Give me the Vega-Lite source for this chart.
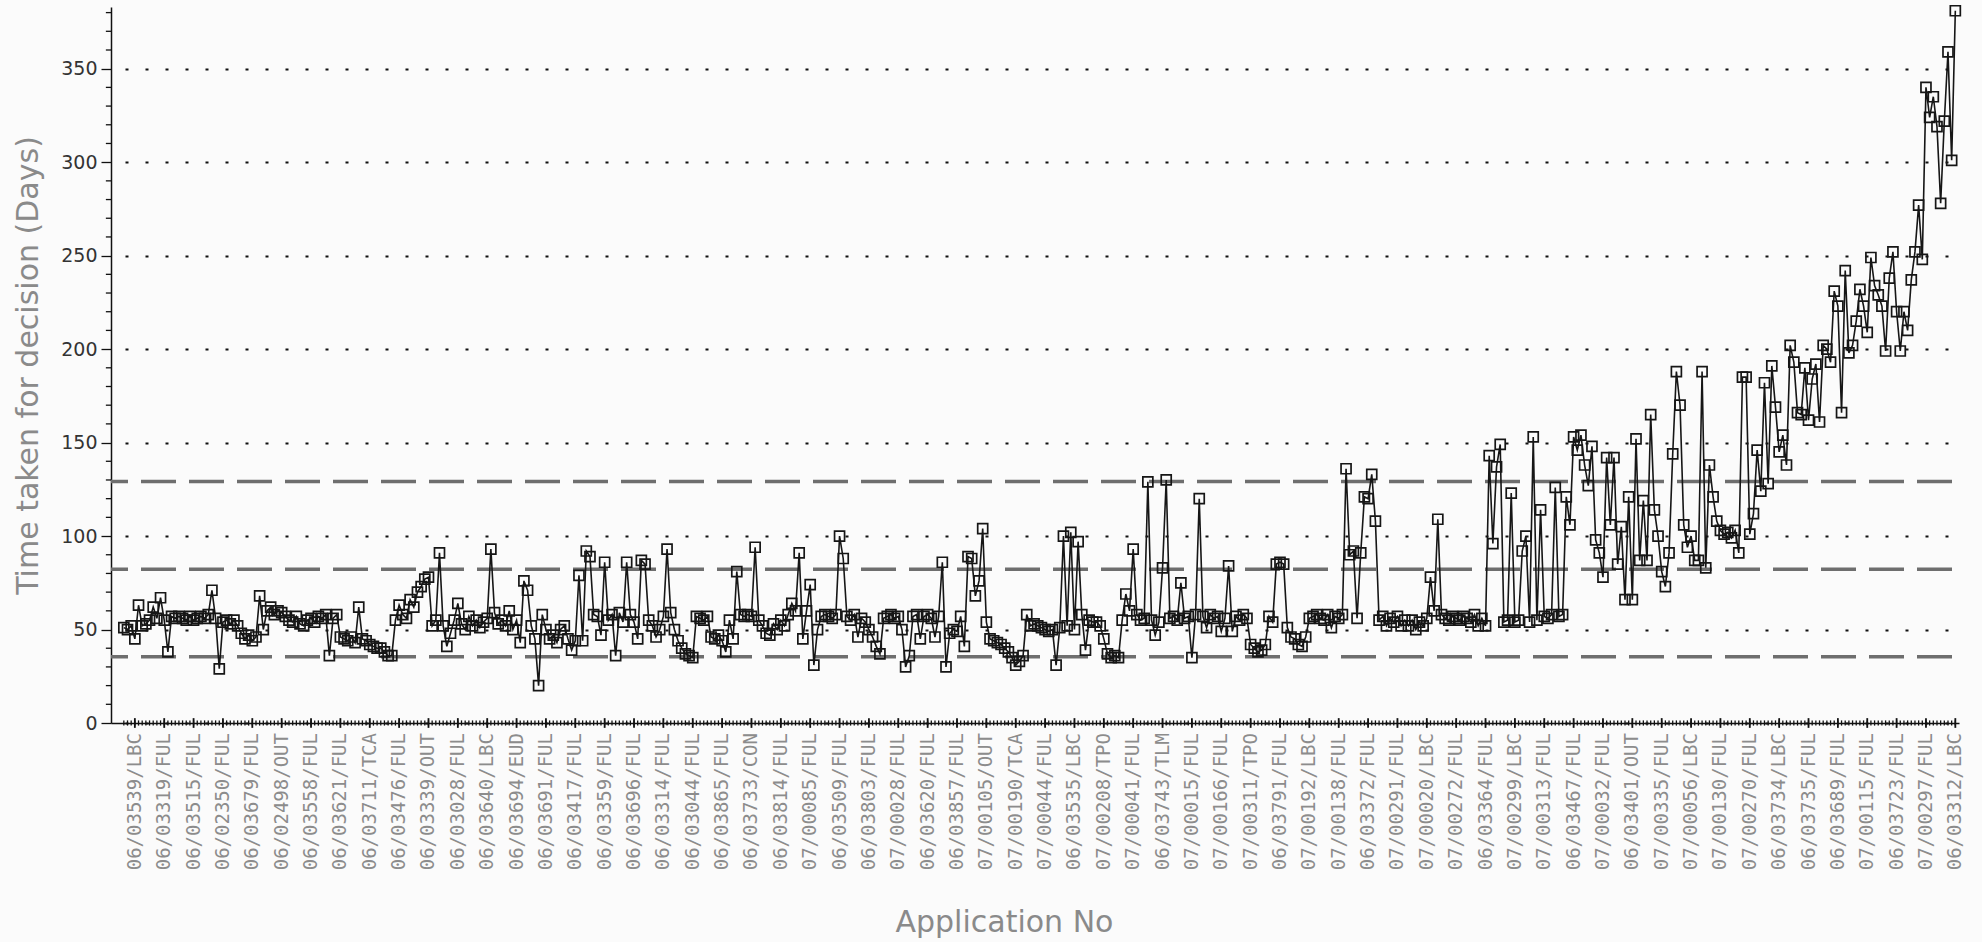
{
"$schema": "https://vega.github.io/schema/vega-lite/v6.json",
"width": 1848, "height": 716,
"autosize": {"type": "none"},
"padding": {"left": 111, "top": 7, "right": 23, "bottom": 219},
"background": "#fbfbfb",
"config": {"view": {"stroke": null},
"axisX": {"labels": false, "ticks": false, "grid": false, "domainColor": "#111", "domainWidth": 1.5,
"titleFont": "DejaVu Sans", "titleFontSize": 30, "titleFontWeight": "normal", "titleColor": "#8a8a8a", "titleX": 893, "titleY": 199, "titleBaseline": "middle"},
"axisY": {"labelOverlap": false, "tickColor": "#111", "tickWidth": 1.3, "tickSize": 10,
"grid": true, "gridDash": [3, 17], "gridDashOffset": 6, "gridWidth": 2, "gridColor": "#111",
"domainColor": "#111", "domainWidth": 1.5,
"labelFont": "DejaVu Sans", "labelFontSize": 19, "labelColor": "#333", "labelPadding": 4,
"titleFont": "DejaVu Sans", "titleFontSize": 30, "titleFontWeight": "normal", "titleColor": "#8a8a8a",
"titleX": -83, "titleY": 358, "titleBaseline": "middle", "titleAngle": 270}
},
"datasets": {
"points": [
{"i":0,"d":51},{"i":1,"d":50},{"i":2,"d":52},{"i":3,"d":45},{"i":4,"d":63},{"i":5,"d":52},{"i":6,"d":53},{"i":7,"d":55},{"i":8,"d":62},{"i":9,"d":56},
{"i":10,"d":67},{"i":11,"d":55},{"i":12,"d":38},{"i":13,"d":57},{"i":14,"d":56},{"i":15,"d":57},{"i":16,"d":56},{"i":17,"d":55},{"i":18,"d":57},{"i":19,"d":55},
{"i":20,"d":56},{"i":21,"d":57},{"i":22,"d":56},{"i":23,"d":58},{"i":24,"d":71},{"i":25,"d":56},{"i":26,"d":29},{"i":27,"d":54},{"i":28,"d":55},{"i":29,"d":53},
{"i":30,"d":55},{"i":31,"d":52},{"i":32,"d":48},{"i":33,"d":45},{"i":34,"d":47},{"i":35,"d":44},{"i":36,"d":46},{"i":37,"d":68},{"i":38,"d":50},{"i":39,"d":60},
{"i":40,"d":62},{"i":41,"d":58},{"i":42,"d":60},{"i":43,"d":59},{"i":44,"d":57},{"i":45,"d":55},{"i":46,"d":54},{"i":47,"d":57},{"i":48,"d":53},{"i":49,"d":52},
{"i":50,"d":55},{"i":51,"d":56},{"i":52,"d":54},{"i":53,"d":57},{"i":54,"d":56},{"i":55,"d":58},{"i":56,"d":36},{"i":57,"d":56},{"i":58,"d":58},{"i":59,"d":46},
{"i":60,"d":45},{"i":61,"d":44},{"i":62,"d":46},{"i":63,"d":43},{"i":64,"d":62},{"i":65,"d":45},{"i":66,"d":44},{"i":67,"d":42},{"i":68,"d":41},{"i":69,"d":40},
{"i":70,"d":40},{"i":71,"d":38},{"i":72,"d":36},{"i":73,"d":36},{"i":74,"d":55},{"i":75,"d":63},{"i":76,"d":58},{"i":77,"d":56},{"i":78,"d":66},{"i":79,"d":62},
{"i":80,"d":70},{"i":81,"d":73},{"i":82,"d":77},{"i":83,"d":78},{"i":84,"d":52},{"i":85,"d":55},{"i":86,"d":91},{"i":87,"d":52},{"i":88,"d":41},{"i":89,"d":48},
{"i":90,"d":55},{"i":91,"d":64},{"i":92,"d":53},{"i":93,"d":50},{"i":94,"d":57},{"i":95,"d":52},{"i":96,"d":55},{"i":97,"d":51},{"i":98,"d":54},{"i":99,"d":56},
{"i":100,"d":93},{"i":101,"d":59},{"i":102,"d":53},{"i":103,"d":55},{"i":104,"d":52},{"i":105,"d":60},{"i":106,"d":50},{"i":107,"d":55},{"i":108,"d":43},{"i":109,"d":76},
{"i":110,"d":71},{"i":111,"d":52},{"i":112,"d":45},{"i":113,"d":20},{"i":114,"d":58},{"i":115,"d":50},{"i":116,"d":45},{"i":117,"d":47},{"i":118,"d":43},{"i":119,"d":50},
{"i":120,"d":52},{"i":121,"d":45},{"i":122,"d":39},{"i":123,"d":44},{"i":124,"d":79},{"i":125,"d":44},{"i":126,"d":92},{"i":127,"d":89},{"i":128,"d":58},{"i":129,"d":57},
{"i":130,"d":47},{"i":131,"d":86},{"i":132,"d":55},{"i":133,"d":58},{"i":134,"d":36},{"i":135,"d":59},{"i":136,"d":54},{"i":137,"d":86},{"i":138,"d":58},{"i":139,"d":54},
{"i":140,"d":45},{"i":141,"d":87},{"i":142,"d":85},{"i":143,"d":55},{"i":144,"d":52},{"i":145,"d":46},{"i":146,"d":50},{"i":147,"d":57},{"i":148,"d":93},{"i":149,"d":59},
{"i":150,"d":50},{"i":151,"d":44},{"i":152,"d":40},{"i":153,"d":37},{"i":154,"d":36},{"i":155,"d":35},{"i":156,"d":57},{"i":157,"d":56},{"i":158,"d":55},{"i":159,"d":57},
{"i":160,"d":46},{"i":161,"d":45},{"i":162,"d":47},{"i":163,"d":44},{"i":164,"d":38},{"i":165,"d":55},{"i":166,"d":45},{"i":167,"d":81},{"i":168,"d":58},{"i":169,"d":57},
{"i":170,"d":58},{"i":171,"d":57},{"i":172,"d":94},{"i":173,"d":55},{"i":174,"d":52},{"i":175,"d":48},{"i":176,"d":47},{"i":177,"d":53},{"i":178,"d":50},{"i":179,"d":55},
{"i":180,"d":52},{"i":181,"d":58},{"i":182,"d":64},{"i":183,"d":60},{"i":184,"d":91},{"i":185,"d":45},{"i":186,"d":60},{"i":187,"d":74},{"i":188,"d":31},{"i":189,"d":50},
{"i":190,"d":57},{"i":191,"d":58},{"i":192,"d":57},{"i":193,"d":56},{"i":194,"d":58},{"i":195,"d":100},{"i":196,"d":88},{"i":197,"d":57},{"i":198,"d":55},{"i":199,"d":58},
{"i":200,"d":46},{"i":201,"d":56},{"i":202,"d":54},{"i":203,"d":50},{"i":204,"d":46},{"i":205,"d":41},{"i":206,"d":37},{"i":207,"d":56},{"i":208,"d":57},{"i":209,"d":58},
{"i":210,"d":56},{"i":211,"d":57},{"i":212,"d":50},{"i":213,"d":30},{"i":214,"d":36},{"i":215,"d":57},{"i":216,"d":58},{"i":217,"d":45},{"i":218,"d":57},{"i":219,"d":58},
{"i":220,"d":56},{"i":221,"d":46},{"i":222,"d":57},{"i":223,"d":86},{"i":224,"d":30},{"i":225,"d":48},{"i":226,"d":50},{"i":227,"d":49},{"i":228,"d":57},{"i":229,"d":41},
{"i":230,"d":89},{"i":231,"d":88},{"i":232,"d":68},{"i":233,"d":76},{"i":234,"d":104},{"i":235,"d":54},{"i":236,"d":45},{"i":237,"d":44},{"i":238,"d":43},{"i":239,"d":42},
{"i":240,"d":40},{"i":241,"d":38},{"i":242,"d":35},{"i":243,"d":31},{"i":244,"d":33},{"i":245,"d":36},{"i":246,"d":58},{"i":247,"d":52},{"i":248,"d":53},{"i":249,"d":52},
{"i":250,"d":51},{"i":251,"d":50},{"i":252,"d":49},{"i":253,"d":50},{"i":254,"d":31},{"i":255,"d":51},{"i":256,"d":100},{"i":257,"d":52},{"i":258,"d":102},{"i":259,"d":50},
{"i":260,"d":97},{"i":261,"d":58},{"i":262,"d":39},{"i":263,"d":55},{"i":264,"d":54},{"i":265,"d":54},{"i":266,"d":52},{"i":267,"d":45},{"i":268,"d":37},{"i":269,"d":35},
{"i":270,"d":36},{"i":271,"d":35},{"i":272,"d":55},{"i":273,"d":69},{"i":274,"d":60},{"i":275,"d":93},{"i":276,"d":58},{"i":277,"d":55},{"i":278,"d":56},{"i":279,"d":129},
{"i":280,"d":55},{"i":281,"d":47},{"i":282,"d":54},{"i":283,"d":83},{"i":284,"d":130},{"i":285,"d":56},{"i":286,"d":57},{"i":287,"d":55},{"i":288,"d":75},{"i":289,"d":56},
{"i":290,"d":57},{"i":291,"d":35},{"i":292,"d":58},{"i":293,"d":120},{"i":294,"d":57},{"i":295,"d":51},{"i":296,"d":58},{"i":297,"d":56},{"i":298,"d":57},{"i":299,"d":49},
{"i":300,"d":56},{"i":301,"d":84},{"i":302,"d":49},{"i":303,"d":57},{"i":304,"d":55},{"i":305,"d":58},{"i":306,"d":56},{"i":307,"d":42},{"i":308,"d":40},{"i":309,"d":38},
{"i":310,"d":39},{"i":311,"d":42},{"i":312,"d":57},{"i":313,"d":54},{"i":314,"d":85},{"i":315,"d":86},{"i":316,"d":85},{"i":317,"d":51},{"i":318,"d":46},{"i":319,"d":45},
{"i":320,"d":42},{"i":321,"d":41},{"i":322,"d":46},{"i":323,"d":56},{"i":324,"d":57},{"i":325,"d":58},{"i":326,"d":56},{"i":327,"d":55},{"i":328,"d":58},{"i":329,"d":51},
{"i":330,"d":57},{"i":331,"d":56},{"i":332,"d":58},{"i":333,"d":136},{"i":334,"d":90},{"i":335,"d":92},{"i":336,"d":56},{"i":337,"d":91},{"i":338,"d":121},{"i":339,"d":120},
{"i":340,"d":133},{"i":341,"d":108},{"i":342,"d":55},{"i":343,"d":57},{"i":344,"d":52},{"i":345,"d":56},{"i":346,"d":54},{"i":347,"d":57},{"i":348,"d":52},{"i":349,"d":55},
{"i":350,"d":52},{"i":351,"d":55},{"i":352,"d":50},{"i":353,"d":54},{"i":354,"d":52},{"i":355,"d":56},{"i":356,"d":78},{"i":357,"d":60},{"i":358,"d":109},{"i":359,"d":58},
{"i":360,"d":56},{"i":361,"d":55},{"i":362,"d":57},{"i":363,"d":56},{"i":364,"d":55},{"i":365,"d":57},{"i":366,"d":56},{"i":367,"d":54},{"i":368,"d":58},{"i":369,"d":52},
{"i":370,"d":56},{"i":371,"d":52},{"i":372,"d":143},{"i":373,"d":96},{"i":374,"d":137},{"i":375,"d":149},{"i":376,"d":54},{"i":377,"d":55},{"i":378,"d":123},{"i":379,"d":54},
{"i":380,"d":55},{"i":381,"d":92},{"i":382,"d":100},{"i":383,"d":54},{"i":384,"d":153},{"i":385,"d":55},{"i":386,"d":114},{"i":387,"d":57},{"i":388,"d":56},{"i":389,"d":58},
{"i":390,"d":126},{"i":391,"d":57},{"i":392,"d":58},{"i":393,"d":121},{"i":394,"d":106},{"i":395,"d":153},{"i":396,"d":146},{"i":397,"d":154},{"i":398,"d":138},{"i":399,"d":127},
{"i":400,"d":148},{"i":401,"d":98},{"i":402,"d":91},{"i":403,"d":78},{"i":404,"d":142},{"i":405,"d":106},{"i":406,"d":142},{"i":407,"d":85},{"i":408,"d":105},{"i":409,"d":66},
{"i":410,"d":121},{"i":411,"d":66},{"i":412,"d":152},{"i":413,"d":87},{"i":414,"d":119},{"i":415,"d":87},{"i":416,"d":165},{"i":417,"d":114},{"i":418,"d":100},{"i":419,"d":81},
{"i":420,"d":73},{"i":421,"d":91},{"i":422,"d":144},{"i":423,"d":188},{"i":424,"d":170},{"i":425,"d":106},{"i":426,"d":94},{"i":427,"d":100},{"i":428,"d":87},{"i":429,"d":87},
{"i":430,"d":188},{"i":431,"d":83},{"i":432,"d":138},{"i":433,"d":121},{"i":434,"d":108},{"i":435,"d":103},{"i":436,"d":101},{"i":437,"d":102},{"i":438,"d":99},{"i":439,"d":103},
{"i":440,"d":91},{"i":441,"d":185},{"i":442,"d":185},{"i":443,"d":101},{"i":444,"d":112},{"i":445,"d":146},{"i":446,"d":124},{"i":447,"d":182},{"i":448,"d":128},{"i":449,"d":191},
{"i":450,"d":169},{"i":451,"d":145},{"i":452,"d":154},{"i":453,"d":138},{"i":454,"d":202},{"i":455,"d":193},{"i":456,"d":166},{"i":457,"d":165},{"i":458,"d":190},{"i":459,"d":162},
{"i":460,"d":184},{"i":461,"d":192},{"i":462,"d":161},{"i":463,"d":202},{"i":464,"d":200},{"i":465,"d":193},{"i":466,"d":231},{"i":467,"d":223},{"i":468,"d":166},{"i":469,"d":242},
{"i":470,"d":198},{"i":471,"d":202},{"i":472,"d":215},{"i":473,"d":232},{"i":474,"d":223},{"i":475,"d":209},{"i":476,"d":249},{"i":477,"d":234},{"i":478,"d":229},{"i":479,"d":223},
{"i":480,"d":199},{"i":481,"d":238},{"i":482,"d":252},{"i":483,"d":220},{"i":484,"d":199},{"i":485,"d":220},{"i":486,"d":210},{"i":487,"d":237},{"i":488,"d":252},{"i":489,"d":277},
{"i":490,"d":248},{"i":491,"d":340},{"i":492,"d":324},{"i":493,"d":335},{"i":494,"d":319},{"i":495,"d":278},{"i":496,"d":322},{"i":497,"d":359},{"i":498,"d":301},{"i":499,"d":381}
],
"labels": [
{"i":3,"app":"06/03539/LBC"},{"i":11,"app":"06/03319/FUL"},{"i":19,"app":"06/03515/FUL"},{"i":27,"app":"06/02350/FUL"},{"i":35,"app":"06/03679/FUL"},
{"i":43,"app":"06/02498/OUT"},{"i":51,"app":"06/03558/FUL"},{"i":59,"app":"06/03621/FUL"},{"i":67,"app":"06/03711/TCA"},{"i":75,"app":"06/03476/FUL"},
{"i":83,"app":"06/03339/OUT"},{"i":91,"app":"06/03028/FUL"},{"i":99,"app":"06/03640/LBC"},{"i":107,"app":"06/03694/EUD"},{"i":115,"app":"06/03691/FUL"},
{"i":123,"app":"06/03417/FUL"},{"i":131,"app":"06/03359/FUL"},{"i":139,"app":"06/03696/FUL"},{"i":147,"app":"06/03314/FUL"},{"i":155,"app":"06/03044/FUL"},
{"i":163,"app":"06/03865/FUL"},{"i":171,"app":"06/03733/CON"},{"i":179,"app":"06/03814/FUL"},{"i":187,"app":"07/00085/FUL"},{"i":195,"app":"06/03509/FUL"},
{"i":203,"app":"06/03803/FUL"},{"i":211,"app":"07/00028/FUL"},{"i":219,"app":"06/03620/FUL"},{"i":227,"app":"06/03857/FUL"},{"i":235,"app":"07/00105/OUT"},
{"i":243,"app":"07/00190/TCA"},{"i":251,"app":"07/00044/FUL"},{"i":259,"app":"06/03535/LBC"},{"i":267,"app":"07/00208/TPO"},{"i":275,"app":"07/00041/FUL"},
{"i":283,"app":"06/03743/TLM"},{"i":291,"app":"07/00015/FUL"},{"i":299,"app":"07/00166/FUL"},{"i":307,"app":"07/00311/TPO"},{"i":315,"app":"06/03791/FUL"},
{"i":323,"app":"07/00192/LBC"},{"i":331,"app":"07/00138/FUL"},{"i":339,"app":"06/03372/FUL"},{"i":347,"app":"07/00291/FUL"},{"i":355,"app":"07/00020/LBC"},
{"i":363,"app":"07/00272/FUL"},{"i":371,"app":"06/03364/FUL"},{"i":379,"app":"07/00299/LBC"},{"i":387,"app":"07/00313/FUL"},{"i":395,"app":"06/03467/FUL"},
{"i":403,"app":"07/00032/FUL"},{"i":411,"app":"06/03401/OUT"},{"i":419,"app":"07/00335/FUL"},{"i":427,"app":"07/00056/LBC"},{"i":435,"app":"07/00130/FUL"},
{"i":443,"app":"07/00270/FUL"},{"i":451,"app":"06/03734/LBC"},{"i":459,"app":"06/03735/FUL"},{"i":467,"app":"06/03689/FUL"},{"i":475,"app":"07/00115/FUL"},
{"i":483,"app":"06/03723/FUL"},{"i":491,"app":"07/00297/FUL"},{"i":499,"app":"06/03312/LBC"}
],
"limits": [{"name":"UCL","value":129.2},{"name":"Mean","value":82.3},{"name":"LCL","value":35.4}],
"yminor": [{"v":10},{"v":20},{"v":30},{"v":40},{"v":60},{"v":70},{"v":80},{"v":90},{"v":110},{"v":120},{"v":130},{"v":140},{"v":160},{"v":170},{"v":180},{"v":190},{"v":210},{"v":220},{"v":230},{"v":240},{"v":260},{"v":270},{"v":280},{"v":290},{"v":310},{"v":320},{"v":330},{"v":340},{"v":360},{"v":370},{"v":380}]
},
"layer": [
{
"data": {"name": "points"},
"mark": {"type": "line", "color": "#161616", "strokeWidth": 1.6, "opacity": 0},
"encoding": {
"x": {"field": "i", "type": "quantitative", "scale": {"domain": [-3.5, 500], "nice": false, "zero": false}, "axis": {"title": "Application No"}},
"y": {"field": "d", "type": "quantitative", "scale": {"domain": [0, 383], "nice": false, "zero": true}, "axis": {"title": "Time taken for decision (Days)", "values": [0, 50, 100, 150, 200, 250, 300, 350]}}
}
},
{
"data": {"name": "yminor"},
"mark": {"type": "rule", "color": "#111", "strokeWidth": 1.3},
"encoding": {
"y": {"field": "v", "type": "quantitative", "scale": {"domain": [0, 383], "nice": false, "zero": true}, "axis": {"title": "Time taken for decision (Days)", "values": [0, 50, 100, 150, 200, 250, 300, 350]}},
"x": {"datum": -4.9, "type": "quantitative", "scale": {"domain": [-3.5, 500], "nice": false, "zero": false}, "axis": {"title": "Application No"}},
"x2": {"datum": -3.5}
}
},
{
"data": {"name": "limits"},
"mark": {"type": "rule", "strokeDash": [35, 13], "strokeDashOffset": 41, "strokeWidth": 3.5, "color": "#6e6e6e"},
"encoding": {"y": {"field": "value", "type": "quantitative", "scale": {"domain": [0, 383], "nice": false, "zero": true}, "axis": {"title": "Time taken for decision (Days)", "values": [0, 50, 100, 150, 200, 250, 300, 350]}}}
},
{
"data": {"name": "points"},
"mark": {"type": "rule", "color": "#111", "strokeWidth": 1.3},
"encoding": {
"x": {"field": "i", "type": "quantitative", "scale": {"domain": [-3.5, 500], "nice": false, "zero": false}, "axis": {"title": "Application No"}},
"y": {"datum": -1.4, "type": "quantitative", "scale": {"domain": [0, 383], "nice": false, "zero": true}, "axis": {"title": "Time taken for decision (Days)", "values": [0, 50, 100, 150, 200, 250, 300, 350]}},
"y2": {"datum": 1.4}
}
},
{
"data": {"name": "labels"},
"mark": {"type": "rule", "color": "#111", "strokeWidth": 1.8},
"encoding": {
"x": {"field": "i", "type": "quantitative", "scale": {"domain": [-3.5, 500], "nice": false, "zero": false}, "axis": {"title": "Application No"}},
"y": {"datum": -2.6, "type": "quantitative", "scale": {"domain": [0, 383], "nice": false, "zero": true}, "axis": {"title": "Time taken for decision (Days)", "values": [0, 50, 100, 150, 200, 250, 300, 350]}},
"y2": {"datum": 2.6}
}
},
{
"data": {"name": "labels"},
"mark": {"type": "text", "angle": 270, "align": "right", "baseline": "middle", "dx": -10, "font": "DejaVu Sans Mono", "fontSize": 19, "color": "#8c8c8c"},
"encoding": {
"x": {"field": "i", "type": "quantitative", "scale": {"domain": [-3.5, 500], "nice": false, "zero": false}, "axis": {"title": "Application No"}},
"y": {"datum": 0, "type": "quantitative", "scale": {"domain": [0, 383], "nice": false, "zero": true}, "axis": {"title": "Time taken for decision (Days)", "values": [0, 50, 100, 150, 200, 250, 300, 350]}},
"text": {"field": "app"}
}
},
{
"data": {"name": "points"},
"mark": {"type": "line", "color": "#161616", "strokeWidth": 1.6},
"encoding": {
"x": {"field": "i", "type": "quantitative", "scale": {"domain": [-3.5, 500], "nice": false, "zero": false}, "axis": {"title": "Application No"}},
"y": {"field": "d", "type": "quantitative", "scale": {"domain": [0, 383], "nice": false, "zero": true}, "axis": {"title": "Time taken for decision (Days)", "values": [0, 50, 100, 150, 200, 250, 300, 350]}}
}
},
{
"data": {"name": "points"},
"mark": {"type": "point", "shape": "square", "filled": false, "size": 100, "strokeWidth": 1.7, "color": "#161616", "opacity": 1},
"encoding": {
"x": {"field": "i", "type": "quantitative", "scale": {"domain": [-3.5, 500], "nice": false, "zero": false}, "axis": {"title": "Application No"}},
"y": {"field": "d", "type": "quantitative", "scale": {"domain": [0, 383], "nice": false, "zero": true}, "axis": {"title": "Time taken for decision (Days)", "values": [0, 50, 100, 150, 200, 250, 300, 350]}}
}
}
]
}
